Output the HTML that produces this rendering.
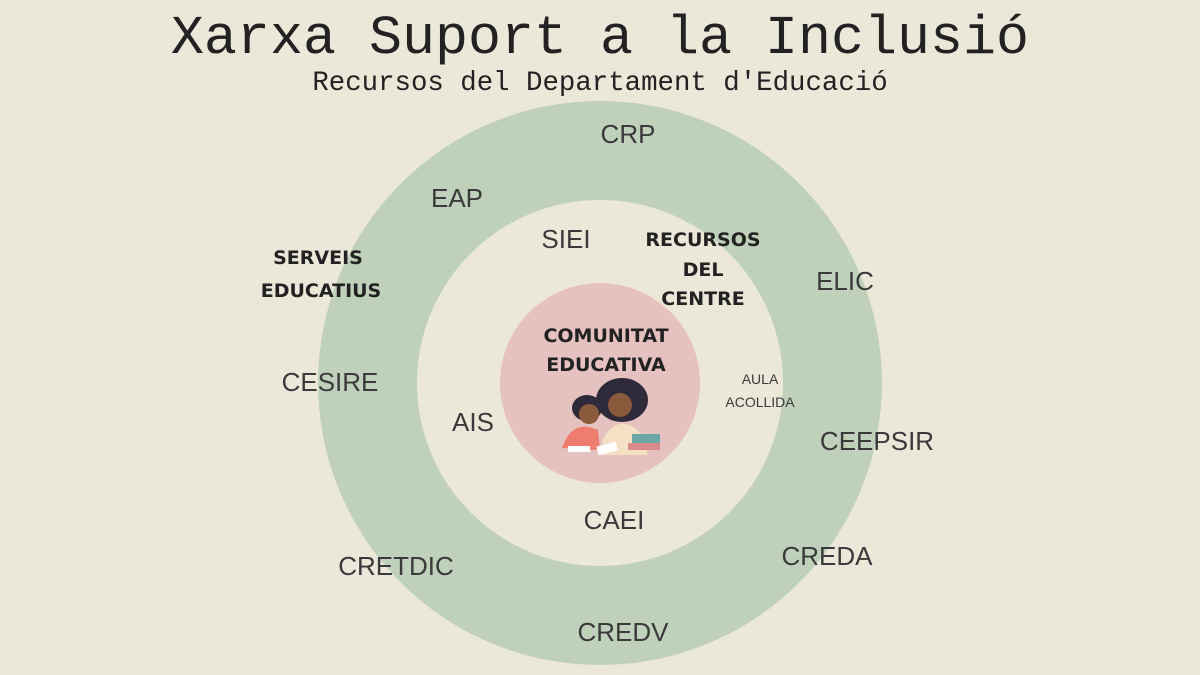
<!DOCTYPE html>
<html><head><meta charset="utf-8"><style>
html,body{margin:0;padding:0;background:#ece8d9;}
svg{display:block}
.l{font-family:"Liberation Sans",sans-serif;fill:#3a3a3a;font-weight:300}
.b{font-family:"DejaVu Sans","Liberation Sans",sans-serif;fill:#222;font-weight:bold}
.m{font-family:"Liberation Mono",monospace;fill:#222}
</style></head><body>
<svg width="1200" height="675" viewBox="0 0 1200 675">
<rect width="1200" height="675" fill="#ece8d9"/>
<text class="m" x="600" y="53" font-size="55" text-anchor="middle">Xarxa Suport a la Inclusió</text>
<text class="m" x="600" y="90" font-size="27.4" text-anchor="middle">Recursos del Departament d'Educació</text>
<circle cx="600" cy="383" r="282" fill="#bfd0bb"/>
<circle cx="600" cy="383" r="183" fill="#ece8d9"/>
<circle cx="600" cy="383" r="100" fill="#e5c1bf"/>
<g class="l" font-size="26" text-anchor="middle">
<text x="628" y="143">CRP</text>
<text x="457" y="207">EAP</text>
<text x="845" y="290">ELIC</text>
<text x="330" y="391">CESIRE</text>
<text x="877" y="450">CEEPSIR</text>
<text x="827" y="565">CREDA</text>
<text x="396" y="575">CRETDIC</text>
<text x="623" y="641">CREDV</text>
<text x="566" y="248">SIEI</text>
<text x="473" y="431">AIS</text>
<text x="614" y="529">CAEI</text>
</g>
<g class="l" font-size="14" text-anchor="middle">
<text x="760" y="384">AULA</text>
<text x="760" y="407">ACOLLIDA</text>
</g>
<g class="b" font-size="19" text-anchor="middle">
<text x="318" y="264">SERVEIS</text>
<text x="321" y="297">EDUCATIUS</text>
<text x="703" y="246">RECURSOS</text>
<text x="703" y="276">DEL</text>
<text x="703" y="305">CENTRE</text>
<text x="606" y="342">COMUNITAT</text>
<text x="606" y="371">EDUCATIVA</text>
</g>
<g>
<ellipse cx="622" cy="400" rx="26" ry="22" fill="#2e2a3a"/>
<path d="M602 440 q18 -30 40 -5 l6 20 h-44z" fill="#f5e0c3"/>
<circle cx="620" cy="405" r="12" fill="#8a5a3c"/>
<ellipse cx="587" cy="408" rx="15" ry="13" fill="#2e2a3a"/>
<circle cx="589" cy="414" r="10" fill="#8a5a3c"/>
<path d="M562 448 q10 -30 36 -18 l2 20z" fill="#ee7d70"/>
<rect x="568" y="446" width="22" height="6" fill="#fff"/>
<rect x="597" y="444" width="20" height="9" fill="#fff" transform="rotate(-15 607 448)"/>
<rect x="628" y="443" width="32" height="7" fill="#d98a8a"/>
<rect x="632" y="434" width="28" height="9" fill="#6ca7a8"/>
</g>
</svg>
</body></html>
